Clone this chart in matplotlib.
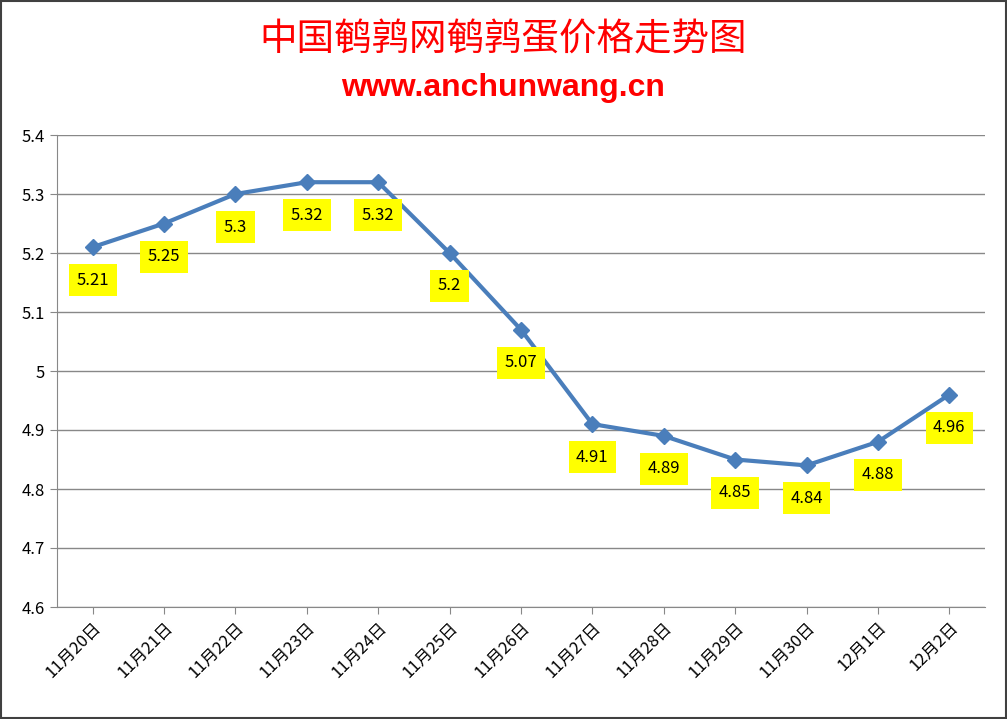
import matplotlib
matplotlib.use("Agg")
import matplotlib.pyplot as plt

plt.rcParams['font.family'] = ['Noto Sans CJK SC', 'DejaVu Sans']

dates = ["11月20日","11月21日","11月22日","11月23日","11月24日","11月25日","11月26日",
         "11月27日","11月28日","11月29日","11月30日","12月1日","12月2日"]
prices = [5.21,5.25,5.3,5.32,5.32,5.2,5.07,4.91,4.89,4.85,4.84,4.88,4.96]
labels = ["5.21","5.25","5.3","5.32","5.32","5.2","5.07","4.91","4.89","4.85","4.84","4.88","4.96"]

fig = plt.figure(figsize=(10.07,7.19), dpi=100)
ax = fig.add_axes([57/1007, 1-607/719, 928/1007, 472/719])
x = list(range(len(dates)))
ax.plot(x, prices, color='#4A7EBB', lw=3, marker='D', ms=8, zorder=3)
for xi, yi, lb in zip(x, prices, labels):
    ax.annotate(lb, (xi, yi), xytext=(0, -33), textcoords='offset pixels',
                ha='center', va='center', fontsize=12,
                bbox=dict(boxstyle='square,pad=0.45', fc='#FFFF00', ec='none'))
ax.set_xlim(-0.5, len(dates)-0.5)
ax.set_ylim(4.6, 5.4)
ax.set_yticks([4.6,4.7,4.8,4.9,5.0,5.1,5.2,5.3,5.4])
ax.set_yticklabels(["4.6","4.7","4.8","4.9","5","5.1","5.2","5.3","5.4"], fontsize=12)
ax.set_xticks(x)
ax.set_xticklabels(dates, rotation=45, ha='right', rotation_mode='anchor', fontsize=12)
ax.grid(axis='y', color='#888888', lw=1)
ax.set_axisbelow(True)
for s in ['top','right']:
    ax.spines[s].set_visible(False)
ax.spines['left'].set_color('#888888')
ax.spines['bottom'].set_color('#888888')
ax.tick_params(axis='y', length=5, color='#888888')
ax.tick_params(axis='x', length=5, color='#888888')

fig.text(0.5, 1-40/719, "中国鹌鹑网鹌鹑蛋价格走势图", ha='center', va='center', color='#FF0000', fontsize=27)
fig.text(0.5, 1-88/719, "www.anchunwang.cn", ha='center', va='center', color='#FF0000', fontsize=23,
         fontweight='bold', family='Liberation Sans')
fig.patches.append(plt.Rectangle((0.001,0.001),0.998,0.998, transform=fig.transFigure, fill=False, ec='#404040', lw=1.5))
fig.savefig("out.png", dpi=100)
